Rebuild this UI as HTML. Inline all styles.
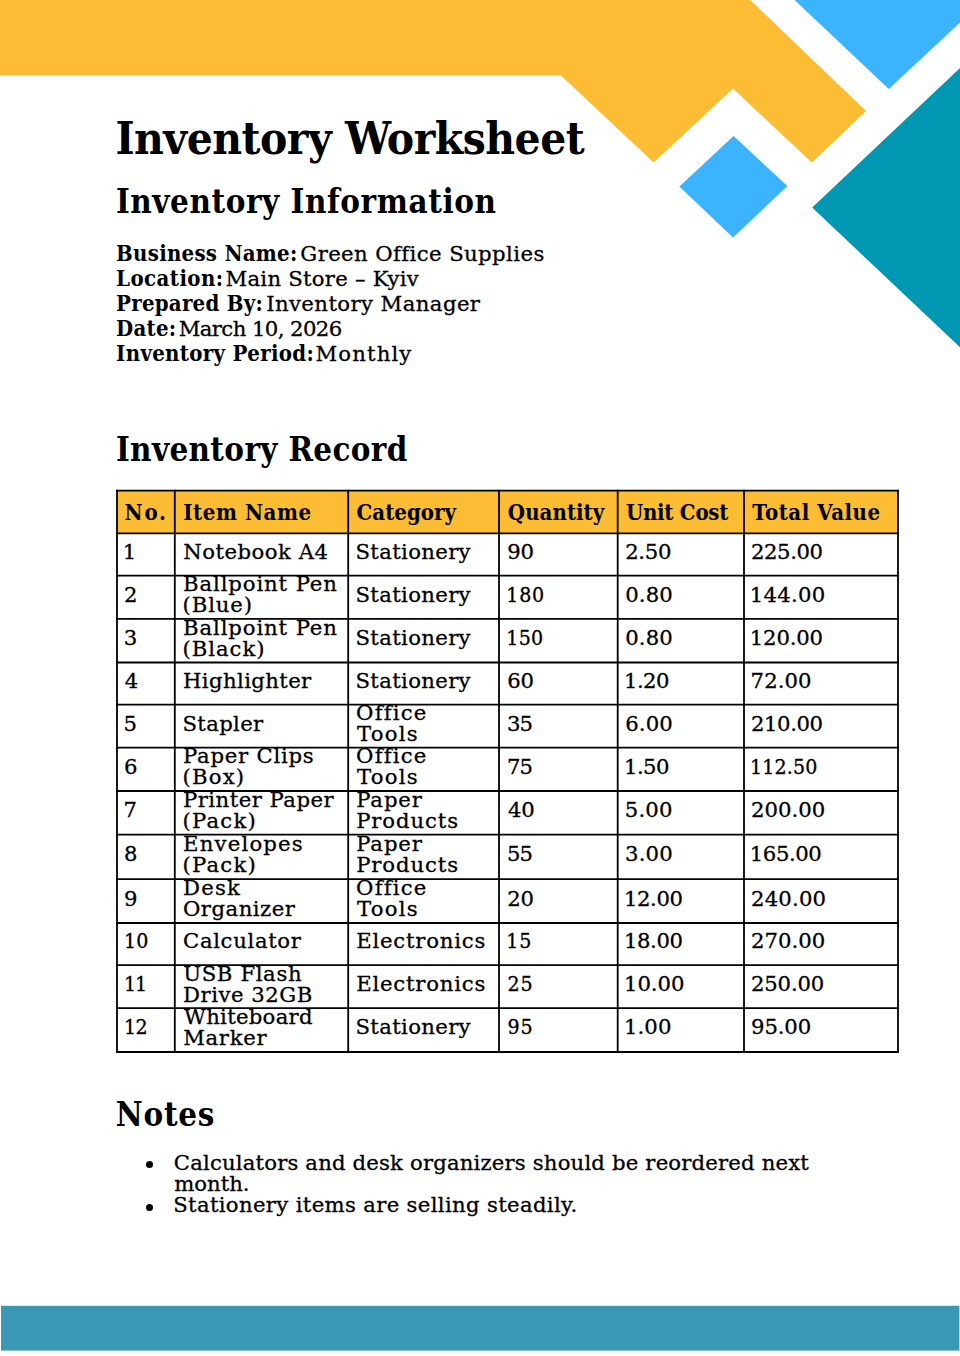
<!DOCTYPE html>
<html lang="en"><head><meta charset="utf-8"><title>Inventory Worksheet</title>
<style>
html,body{margin:0;padding:0;background:#fff}
body{width:960px;height:1356px;position:relative;overflow:hidden;color:#000;font-family:"DejaVu Serif","Liberation Serif",serif}
.page{position:absolute;left:0;top:0;width:960px;height:1356px;overflow:hidden;background:#fff}
svg.deco,svg.grid{position:absolute;left:0;top:0}
h1,h2,p,ul,li{margin:0;padding:0;font-weight:normal;list-style:none}
.t{position:absolute;white-space:nowrap;margin:0;padding:0;font-style:normal}
.r{font-family:"DejaVu Serif","Liberation Serif",serif;font-weight:400;-webkit-text-stroke:0.3px #000}
.c{font-family:"DejaVu Serif Condensed","DejaVu Serif","Liberation Serif",serif;font-weight:400;font-stretch:condensed;-webkit-text-stroke:0.3px #000}
.b{font-family:"DejaVu Serif Condensed","DejaVu Serif","Liberation Serif",serif;font-weight:700;font-stretch:condensed}
.hd{position:absolute;background:#FCBC34}
table.tbl,.tbl thead,.tbl tbody{display:block;margin:0;padding:0;border:0;border-spacing:0}
.tbl tr{display:block;position:absolute;left:0;width:960px}
.tbl th,.tbl td{display:block;padding:0;margin:0;border:0;font-weight:normal}
.dot{position:absolute;width:7px;height:7px;border-radius:50%;background:#000;display:block}
</style></head>
<body><div class="page">
<svg class="deco" width="960" height="1356" viewBox="0 0 960 1356">
<polygon fill="#FCBC34" points="0,0 750.2,0 866,111 811.8,162.6 733,88.6 653.6,162.6 561,75.5 0,75.5"/>
<polygon fill="#3BB3FF" points="794.6,0 960,0 960,22.6 888.8,89"/>
<polygon fill="#3BB3FF" points="733.6,136 787.4,186 733,237.6 679.4,186.6"/>
<polygon fill="#0097B2" points="812.2,207.6 960,68 960,347.2"/>
<rect x="1" y="1305.8" width="958.4" height="44.8" fill="#3A98B4"/>
</svg>
<h1 class="t b" style="left:115.39px;top:116px;font-size:45.6px;line-height:45.6px;letter-spacing:-0.518px;">Inventory Worksheet</h1>
<h2 class="t b" style="left:115.92px;top:186px;font-size:32.8px;line-height:32.8px;letter-spacing:0.580px;">Inventory Information</h2>
<section class="info">
<p><b class="t b" style="left:116.08px;top:242px;font-size:22.0px;line-height:22.0px;letter-spacing:0.266px;">Business Name:</b><span class="t r" style="left:300.31px;top:243px;font-size:21.2px;line-height:21.2px;letter-spacing:0.412px;">Green Office Supplies</span></p>
<p><b class="t b" style="left:116.08px;top:267px;font-size:22.0px;line-height:22.0px;letter-spacing:0.434px;">Location:</b><span class="t r" style="left:225.54px;top:268px;font-size:21.2px;line-height:21.2px;letter-spacing:0.257px;">Main Store – Kyiv</span></p>
<p><b class="t b" style="left:116.08px;top:292px;font-size:22.0px;line-height:22.0px;letter-spacing:0.254px;">Prepared By:</b><span class="t r" style="left:266.13px;top:293px;font-size:21.2px;line-height:21.2px;letter-spacing:0.421px;">Inventory Manager</span></p>
<p><b class="t b" style="left:116.08px;top:317px;font-size:22.0px;line-height:22.0px;letter-spacing:0.253px;">Date:</b><span class="t r" style="left:178.64px;top:318px;font-size:21.2px;line-height:21.2px;letter-spacing:-0.574px;">March 10, 2026</span></p>
<p><b class="t b" style="left:116.08px;top:342px;font-size:22.0px;line-height:22.0px;letter-spacing:0.322px;">Inventory Period:</b><span class="t r" style="left:315.54px;top:343px;font-size:21.2px;line-height:21.2px;letter-spacing:1.127px;">Monthly</span></p>
</section>
<h2 class="t b" style="left:115.92px;top:434px;font-size:32.8px;line-height:32.8px;letter-spacing:0.360px;">Inventory Record</h2>
<div class="tblwrap">
<div class="hd" style="left:117px;top:490.6px;width:781px;height:42.7px"></div>
<table class="tbl"><thead>
<tr class="tr" style="top:0;height:0">
<th><span class="t b" style="left:124.53px;top:501px;font-size:22.0px;line-height:22.0px;letter-spacing:1.834px;">No.</span></th>
<th><span class="t b" style="left:183.28px;top:501px;font-size:22.0px;line-height:22.0px;letter-spacing:0.567px;">Item Name</span></th>
<th><span class="t b" style="left:356.47px;top:501px;font-size:22.0px;line-height:22.0px;letter-spacing:0.036px;">Category</span></th>
<th><span class="t b" style="left:507.87px;top:501px;font-size:22.0px;line-height:22.0px;letter-spacing:0.040px;">Quantity</span></th>
<th><span class="t b" style="left:625.92px;top:501px;font-size:22.0px;line-height:22.0px;letter-spacing:-0.248px;">Unit Cost</span></th>
<th><span class="t b" style="left:752.19px;top:501px;font-size:22.0px;line-height:22.0px;letter-spacing:0.546px;">Total Value</span></th>
</tr></thead><tbody>
<tr class="tr" style="top:533px;height:43px">
<td><span class="t r" style="left:122.81px;top:8px;font-size:21.2px;line-height:21.2px;">1</span></td>
<td><span class="t r" style="left:183.16px;top:8px;font-size:21.2px;line-height:21.2px;letter-spacing:0.504px;">Notebook A4</span></td>
<td><span class="t r" style="left:355.52px;top:8px;font-size:21.2px;line-height:21.2px;letter-spacing:0.343px;">Stationery</span></td>
<td><span class="t r" style="left:507.36px;top:8px;font-size:21.2px;line-height:21.2px;letter-spacing:-0.333px;">90</span></td>
<td><span class="t r" style="left:625.16px;top:8px;font-size:21.2px;line-height:21.2px;letter-spacing:-0.319px;">2.50</span></td>
<td><span class="t r" style="left:750.96px;top:8px;font-size:21.2px;line-height:21.2px;letter-spacing:-0.407px;">225.00</span></td>
</tr>
<tr class="tr" style="top:576px;height:43px">
<td><span class="t r" style="left:123.96px;top:8px;font-size:21.2px;line-height:21.2px;">2</span></td>
<td><span class="t r" style="left:183.03px;top:-3px;font-size:21.2px;line-height:21.2px;letter-spacing:0.887px;">Ballpoint Pen</span><span class="t r" style="left:182.52px;top:18px;font-size:21.2px;line-height:21.2px;letter-spacing:0.891px;">(Blue)</span></td>
<td><span class="t r" style="left:355.52px;top:8px;font-size:21.2px;line-height:21.2px;letter-spacing:0.343px;">Stationery</span></td>
<td><span class="t c" style="left:506.37px;top:8px;font-size:21.2px;line-height:21.2px;letter-spacing:0.643px;">180</span></td>
<td><span class="t r" style="left:625.20px;top:8px;font-size:21.2px;line-height:21.2px;letter-spacing:0.134px;">0.80</span></td>
<td><span class="t r" style="left:749.81px;top:8px;font-size:21.2px;line-height:21.2px;letter-spacing:0.243px;">144.00</span></td>
</tr>
<tr class="tr" style="top:619px;height:43px">
<td><span class="t r" style="left:123.79px;top:8px;font-size:21.2px;line-height:21.2px;">3</span></td>
<td><span class="t r" style="left:183.03px;top:-2px;font-size:21.2px;line-height:21.2px;letter-spacing:0.887px;">Ballpoint Pen</span><span class="t r" style="left:182.52px;top:19px;font-size:21.2px;line-height:21.2px;letter-spacing:0.966px;">(Black)</span></td>
<td><span class="t r" style="left:355.52px;top:8px;font-size:21.2px;line-height:21.2px;letter-spacing:0.343px;">Stationery</span></td>
<td><span class="t c" style="left:506.37px;top:8px;font-size:21.2px;line-height:21.2px;letter-spacing:0.243px;">150</span></td>
<td><span class="t r" style="left:625.20px;top:8px;font-size:21.2px;line-height:21.2px;letter-spacing:0.134px;">0.80</span></td>
<td><span class="t r" style="left:749.81px;top:8px;font-size:21.2px;line-height:21.2px;letter-spacing:-0.177px;">120.00</span></td>
</tr>
<tr class="tr" style="top:662px;height:43px">
<td><span class="t r" style="left:124.75px;top:8px;font-size:21.2px;line-height:21.2px;">4</span></td>
<td><span class="t r" style="left:183.03px;top:8px;font-size:21.2px;line-height:21.2px;letter-spacing:0.379px;">Highlighter</span></td>
<td><span class="t r" style="left:355.52px;top:8px;font-size:21.2px;line-height:21.2px;letter-spacing:0.343px;">Stationery</span></td>
<td><span class="t r" style="left:507.28px;top:8px;font-size:21.2px;line-height:21.2px;letter-spacing:-0.250px;">60</span></td>
<td><span class="t r" style="left:624.01px;top:8px;font-size:21.2px;line-height:21.2px;letter-spacing:-0.602px;">1.20</span></td>
<td><span class="t r" style="left:750.62px;top:8px;font-size:21.2px;line-height:21.2px;letter-spacing:0.074px;">72.00</span></td>
</tr>
<tr class="tr" style="top:705px;height:43px">
<td><span class="t r" style="left:123.60px;top:8px;font-size:21.2px;line-height:21.2px;">5</span></td>
<td><span class="t r" style="left:182.42px;top:8px;font-size:21.2px;line-height:21.2px;letter-spacing:0.361px;">Stapler</span></td>
<td><span class="t r" style="left:356.11px;top:-3px;font-size:21.2px;line-height:21.2px;letter-spacing:1.200px;">Office</span><span class="t r" style="left:357.09px;top:18px;font-size:21.2px;line-height:21.2px;letter-spacing:1.200px;">Tools</span></td>
<td><span class="t r" style="left:507.09px;top:8px;font-size:21.2px;line-height:21.2px;letter-spacing:-1.126px;">35</span></td>
<td><span class="t r" style="left:625.18px;top:8px;font-size:21.2px;line-height:21.2px;letter-spacing:0.141px;">6.00</span></td>
<td><span class="t r" style="left:750.96px;top:8px;font-size:21.2px;line-height:21.2px;letter-spacing:-0.407px;">210.00</span></td>
</tr>
<tr class="tr" style="top:748px;height:43px">
<td><span class="t r" style="left:123.98px;top:8px;font-size:21.2px;line-height:21.2px;">6</span></td>
<td><span class="t r" style="left:183.03px;top:-3px;font-size:21.2px;line-height:21.2px;letter-spacing:0.758px;">Paper Clips</span><span class="t r" style="left:182.52px;top:18px;font-size:21.2px;line-height:21.2px;letter-spacing:1.200px;">(Box)</span></td>
<td><span class="t r" style="left:356.11px;top:-3px;font-size:21.2px;line-height:21.2px;letter-spacing:1.200px;">Office</span><span class="t r" style="left:357.09px;top:18px;font-size:21.2px;line-height:21.2px;letter-spacing:1.200px;">Tools</span></td>
<td><span class="t r" style="left:506.92px;top:8px;font-size:21.2px;line-height:21.2px;letter-spacing:-0.960px;">75</span></td>
<td><span class="t r" style="left:624.01px;top:8px;font-size:21.2px;line-height:21.2px;letter-spacing:-0.602px;">1.50</span></td>
<td><span class="t c" style="left:750.07px;top:8px;font-size:21.2px;line-height:21.2px;letter-spacing:0.133px;">112.50</span></td>
</tr>
<tr class="tr" style="top:791px;height:44px">
<td><span class="t r" style="left:123.62px;top:8px;font-size:21.2px;line-height:21.2px;">7</span></td>
<td><span class="t r" style="left:183.03px;top:-2px;font-size:21.2px;line-height:21.2px;letter-spacing:0.475px;">Printer Paper</span><span class="t r" style="left:182.52px;top:19px;font-size:21.2px;line-height:21.2px;letter-spacing:1.200px;">(Pack)</span></td>
<td><span class="t r" style="left:356.13px;top:-2px;font-size:21.2px;line-height:21.2px;letter-spacing:0.917px;">Paper</span><span class="t r" style="left:356.13px;top:19px;font-size:21.2px;line-height:21.2px;letter-spacing:0.900px;">Products</span></td>
<td><span class="t r" style="left:508.05px;top:8px;font-size:21.2px;line-height:21.2px;letter-spacing:-0.216px;">40</span></td>
<td><span class="t r" style="left:624.80px;top:8px;font-size:21.2px;line-height:21.2px;letter-spacing:0.135px;">5.00</span></td>
<td><span class="t r" style="left:750.96px;top:8px;font-size:21.2px;line-height:21.2px;letter-spacing:0.013px;">200.00</span></td>
</tr>
<tr class="tr" style="top:835px;height:44px">
<td><span class="t r" style="left:123.98px;top:8px;font-size:21.2px;line-height:21.2px;">8</span></td>
<td><span class="t r" style="left:183.03px;top:-2px;font-size:21.2px;line-height:21.2px;letter-spacing:1.196px;">Envelopes</span><span class="t r" style="left:182.52px;top:19px;font-size:21.2px;line-height:21.2px;letter-spacing:1.200px;">(Pack)</span></td>
<td><span class="t r" style="left:356.13px;top:-2px;font-size:21.2px;line-height:21.2px;letter-spacing:0.917px;">Paper</span><span class="t r" style="left:356.13px;top:19px;font-size:21.2px;line-height:21.2px;letter-spacing:0.900px;">Products</span></td>
<td><span class="t r" style="left:506.90px;top:8px;font-size:21.2px;line-height:21.2px;letter-spacing:-0.939px;">55</span></td>
<td><span class="t r" style="left:624.99px;top:8px;font-size:21.2px;line-height:21.2px;letter-spacing:0.207px;">3.00</span></td>
<td><span class="t r" style="left:749.81px;top:8px;font-size:21.2px;line-height:21.2px;letter-spacing:-0.437px;">165.00</span></td>
</tr>
<tr class="tr" style="top:879px;height:44px">
<td><span class="t r" style="left:124.06px;top:9px;font-size:21.2px;line-height:21.2px;">9</span></td>
<td><span class="t r" style="left:183.03px;top:-2px;font-size:21.2px;line-height:21.2px;letter-spacing:1.185px;">Desk</span><span class="t r" style="left:183.01px;top:19px;font-size:21.2px;line-height:21.2px;letter-spacing:0.498px;">Organizer</span></td>
<td><span class="t r" style="left:356.11px;top:-2px;font-size:21.2px;line-height:21.2px;letter-spacing:1.200px;">Office</span><span class="t r" style="left:357.09px;top:19px;font-size:21.2px;line-height:21.2px;letter-spacing:1.200px;">Tools</span></td>
<td><span class="t r" style="left:507.26px;top:9px;font-size:21.2px;line-height:21.2px;letter-spacing:-0.229px;">20</span></td>
<td><span class="t r" style="left:624.01px;top:9px;font-size:21.2px;line-height:21.2px;letter-spacing:-0.424px;">12.00</span></td>
<td><span class="t r" style="left:750.96px;top:9px;font-size:21.2px;line-height:21.2px;letter-spacing:0.193px;">240.00</span></td>
</tr>
<tr class="tr" style="top:923px;height:42px">
<td><span class="t c" style="left:124.07px;top:7px;font-size:21.2px;line-height:21.2px;letter-spacing:0.118px;">10</span></td>
<td><span class="t r" style="left:183.01px;top:7px;font-size:21.2px;line-height:21.2px;letter-spacing:0.665px;">Calculator</span></td>
<td><span class="t r" style="left:356.13px;top:7px;font-size:21.2px;line-height:21.2px;letter-spacing:0.798px;">Electronics</span></td>
<td><span class="t c" style="left:506.37px;top:7px;font-size:21.2px;line-height:21.2px;letter-spacing:0.825px;">15</span></td>
<td><span class="t r" style="left:624.01px;top:7px;font-size:21.2px;line-height:21.2px;letter-spacing:-0.424px;">18.00</span></td>
<td><span class="t r" style="left:750.96px;top:7px;font-size:21.2px;line-height:21.2px;letter-spacing:0.013px;">270.00</span></td>
</tr>
<tr class="tr" style="top:965px;height:43px">
<td><span class="t c" style="left:124.07px;top:8px;font-size:21.2px;line-height:21.2px;letter-spacing:-1.300px;">11</span></td>
<td><span class="t r" style="left:183.21px;top:-2px;font-size:21.2px;line-height:21.2px;letter-spacing:0.627px;">USB Flash</span><span class="t r" style="left:183.03px;top:19px;font-size:21.2px;line-height:21.2px;letter-spacing:0.511px;">Drive 32GB</span></td>
<td><span class="t r" style="left:356.13px;top:8px;font-size:21.2px;line-height:21.2px;letter-spacing:0.798px;">Electronics</span></td>
<td><span class="t c" style="left:507.41px;top:8px;font-size:21.2px;line-height:21.2px;letter-spacing:1.000px;">25</span></td>
<td><span class="t r" style="left:624.01px;top:8px;font-size:21.2px;line-height:21.2px;letter-spacing:-0.074px;">10.00</span></td>
<td><span class="t r" style="left:750.96px;top:8px;font-size:21.2px;line-height:21.2px;letter-spacing:-0.147px;">250.00</span></td>
</tr>
<tr class="tr" style="top:1008px;height:44px">
<td><span class="t c" style="left:124.07px;top:8px;font-size:21.2px;line-height:21.2px;letter-spacing:-0.672px;">12</span></td>
<td><span class="t r" style="left:184.10px;top:-2px;font-size:21.2px;line-height:21.2px;letter-spacing:0.284px;">Whiteboard</span><span class="t r" style="left:183.14px;top:19px;font-size:21.2px;line-height:21.2px;letter-spacing:0.710px;">Marker</span></td>
<td><span class="t r" style="left:355.52px;top:8px;font-size:21.2px;line-height:21.2px;letter-spacing:0.343px;">Stationery</span></td>
<td><span class="t c" style="left:507.50px;top:8px;font-size:21.2px;line-height:21.2px;letter-spacing:0.996px;">95</span></td>
<td><span class="t r" style="left:624.01px;top:8px;font-size:21.2px;line-height:21.2px;letter-spacing:0.064px;">1.00</span></td>
<td><span class="t r" style="left:751.06px;top:8px;font-size:21.2px;line-height:21.2px;letter-spacing:-0.137px;">95.00</span></td>
</tr>
</tbody></table>
<svg class="grid" width="960" height="1356" viewBox="0 0 960 1356">
<g stroke="#000" stroke-width="1.8" stroke-linecap="square">
<line x1="117" y1="490.6" x2="898" y2="490.6"/>
<line x1="117" y1="533.3" x2="898" y2="533.3"/>
<line x1="117" y1="575.6" x2="898" y2="575.6"/>
<line x1="117" y1="618.9" x2="898" y2="618.9"/>
<line x1="117" y1="662.5" x2="898" y2="662.5"/>
<line x1="117" y1="704.6" x2="898" y2="704.6"/>
<line x1="117" y1="747.7" x2="898" y2="747.7"/>
<line x1="117" y1="791" x2="898" y2="791"/>
<line x1="117" y1="834.6" x2="898" y2="834.6"/>
<line x1="117" y1="879.2" x2="898" y2="879.2"/>
<line x1="117" y1="923" x2="898" y2="923"/>
<line x1="117" y1="965.1" x2="898" y2="965.1"/>
<line x1="117" y1="1008.2" x2="898" y2="1008.2"/>
<line x1="117" y1="1052" x2="898" y2="1052"/>
<line x1="117" y1="490.6" x2="117" y2="1052"/>
<line x1="174.8" y1="490.6" x2="174.8" y2="1052"/>
<line x1="348.2" y1="490.6" x2="348.2" y2="1052"/>
<line x1="499" y1="490.6" x2="499" y2="1052"/>
<line x1="617.7" y1="490.6" x2="617.7" y2="1052"/>
<line x1="744" y1="490.6" x2="744" y2="1052"/>
<line x1="898" y1="490.6" x2="898" y2="1052"/>
</g></svg>
</div>
<h2 class="t b" style="left:115.70px;top:1099px;font-size:32.8px;line-height:32.8px;letter-spacing:0.780px;">Notes</h2>
<ul>
<li><i class="dot" style="left:146px;top:1161px"></i><span class="t r" style="left:173.81px;top:1152px;font-size:21.2px;line-height:21.2px;letter-spacing:0.169px;">Calculators and desk organizers should be reordered next</span><span class="t r" style="left:174.23px;top:1173px;font-size:21.2px;line-height:21.2px;">month.</span></li>
<li><i class="dot" style="left:146px;top:1204px"></i><span class="t r" style="left:173.22px;top:1194px;font-size:21.2px;line-height:21.2px;letter-spacing:0.338px;">Stationery items are selling steadily.</span></li>
</ul>
</div></body></html>
